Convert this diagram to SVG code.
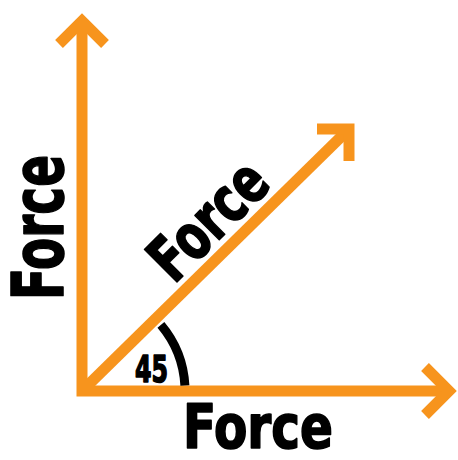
<svg xmlns="http://www.w3.org/2000/svg" width="458" height="460" viewBox="0 0 458 460">
  <style>
    .arrow { fill: none; stroke: #F7941D; stroke-width: 11; stroke-linejoin: miter; stroke-linecap: butt; }
    .lbl { font-family: "Liberation Sans Narrow", "DejaVu Sans Condensed", "Liberation Sans", sans-serif; font-weight: bold; fill: #000; stroke: #000; stroke-width: 1.6; stroke-linejoin: round; }
    .arc { fill: none; stroke: #000; stroke-width: 9; }
  </style>
  <rect width="458" height="460" fill="#fff"/>
  <g id="connectors">
    <g id="axes">
      <path class="arrow" d="M82,21 V391 H449"/>
    </g>
    <g id="vertical-arrow">
      <polyline class="arrow" points="59,44 82,21 105,44"/>
    </g>
    <g id="horizontal-arrow">
      <polyline class="arrow" points="425,367 449,391 425,415"/>
    </g>
    <g id="diagonal-arrow">
      <line class="arrow" x1="82" y1="391" x2="349" y2="129"/>
      <polyline class="arrow" points="317,129 349,129 349,161"/>
    </g>
  </g>
  <g id="angle">
    <path class="arc" d="M160.9,324.8 A103,103 0 0 1 184.9,385.6"/>
    <text class="lbl" x="135" y="382" font-size="38" textLength="33" lengthAdjust="spacingAndGlyphs">45</text>
  </g>
  <g id="label-vertical">
    <text class="lbl" transform="translate(63,300) rotate(-90)" x="0" y="0" font-size="71" textLength="145" lengthAdjust="spacingAndGlyphs">Force</text>
  </g>
  <g id="label-diagonal">
    <text class="lbl" transform="translate(174,285) rotate(-45)" x="0" y="0" font-size="63" textLength="140" lengthAdjust="spacingAndGlyphs">Force</text>
  </g>
  <g id="label-horizontal">
    <text class="lbl" x="183" y="448" font-size="60" textLength="150" lengthAdjust="spacingAndGlyphs">Force</text>
  </g>
</svg>
